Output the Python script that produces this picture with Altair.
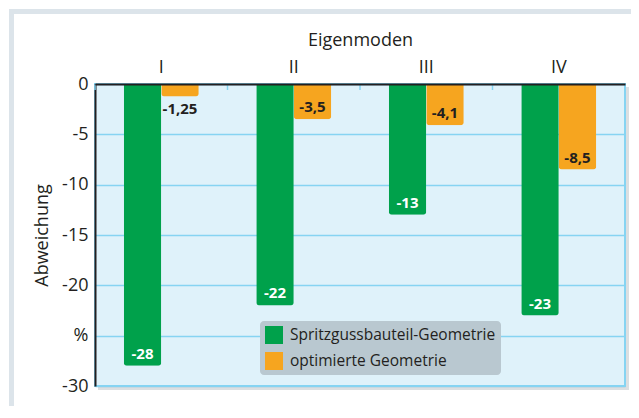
import altair as alt
import pandas as pd

modes = ["I", "II", "III", "IV"]
series_names = ["Spritzgussbauteil-Geometrie", "optimierte Geometrie"]
spritz = [-28, -22, -13, -23]
optim = [-1.25, -3.5, -4.1, -8.5]
y_ticks = [0, -5, -10, -15, -20, -25, -30]

GREEN = "#00a14b"
ORANGE = "#f6a51f"
DARK = "#231f20"
GRID = "#86d4f2"
FONT = "Open Sans"


def fmt(v):
    s = ("%g" % v)
    return s.replace(".", ",")


rows = []
for m, a, b in zip(modes, spritz, optim):
    rows.append({"mode": m, "series": series_names[0], "value": a, "label": fmt(a)})
    rows.append({"mode": m, "series": series_names[1], "value": b, "label": fmt(b)})
df = pd.DataFrame(rows)
modes_df = pd.DataFrame({"mode": modes})

x_scale = alt.Scale(domain=modes, paddingInner=0.434, paddingOuter=0.217)
xo = alt.XOffset("series:N", sort=series_names,
                 scale=alt.Scale(domain=series_names, paddingInner=0, paddingOuter=0))
y_enc = alt.Y(
    "value:Q",
    scale=alt.Scale(domain=[-30, 0], nice=False, zero=True),
    axis=alt.Axis(
        values=y_ticks,
        labelExpr="datum.value == -25 ? '%' : '' + datum.value",
        grid=True, gridColor=GRID, gridWidth=1.5,
        domain=True, domainColor=DARK, domainWidth=2,
        ticks=False, labelPadding=7,
        labelFont=FONT, labelFontSize=18, labelColor=DARK,
        title="Abweichung", titleFont=FONT, titleFontSize=18,
        titleFontWeight="normal", titleColor=DARK, titlePadding=10,
    ),
)

base = alt.Chart(df)

bars = base.mark_bar(cornerRadiusBottomLeft=3, cornerRadiusBottomRight=3).encode(
    x=alt.X("mode:N", sort=modes, scale=x_scale,
            axis=alt.Axis(orient="top", title="Eigenmoden", labelAngle=0,
                          labelFont=FONT, labelFontSize=18, labelColor=DARK,
                          labelPadding=8, ticks=False,
                          domain=True, domainColor=DARK, domainWidth=2,
                          titleFont=FONT, titleFontSize=18, titleFontWeight="normal",
                          titleColor=DARK, titlePadding=9, zindex=1)),
    xOffset=xo,
    y=y_enc,
    color=alt.Color("series:N", sort=series_names,
                    scale=alt.Scale(domain=series_names, range=[GREEN, ORANGE]),
                    legend=alt.Legend(title=None, orient="none", legendX=165, legendY=237,
                                      fillColor="#b9c8d0", cornerRadius=4, padding=5,
                                      symbolType="square", symbolSize=324,
                                      symbolStrokeWidth=0, symbolOpacity=1,
                                      labelFont=FONT, labelFontSize=15.5, labelColor=DARK,
                                      labelLimit=0, labelOffset=7, rowPadding=8)),
)

text_color = alt.condition(alt.datum.series == series_names[0],
                           alt.value("white"), alt.value(DARK))

labels_in = base.transform_filter("datum.value < -2").mark_text(
    font=FONT, fontSize=15, fontWeight="bold", baseline="middle", dy=-12
).encode(
    x=alt.X("mode:N", sort=modes, scale=x_scale),
    xOffset=xo,
    y=alt.Y("value:Q"),
    text="label:N",
    color=text_color,
)

labels_out = base.transform_filter("datum.value >= -2").mark_text(
    font=FONT, fontSize=15, fontWeight="bold", baseline="middle", dy=12
).encode(
    x=alt.X("mode:N", sort=modes, scale=x_scale),
    xOffset=xo,
    y=alt.Y("value:Q"),
    text="label:N",
    color=text_color,
)

frame = alt.Chart(pd.DataFrame({"a": [0]})).mark_rect(
    filled=False, stroke="#dce4ea", strokeWidth=5, clip=False
).encode(
    x=alt.value(-83.5), x2=alt.value(700), y=alt.value(-72.5), y2=alt.value(500)
)

shadow_b = alt.Chart(pd.DataFrame({"a": [0]})).mark_rect(
    fill="#9aa4aa", opacity=0.35, clip=False
).encode(x=alt.value(3), x2=alt.value(534), y=alt.value(303), y2=alt.value(306))
shadow_r = alt.Chart(pd.DataFrame({"a": [0]})).mark_rect(
    fill="#9aa4aa", opacity=0.35, clip=False
).encode(x=alt.value(531), x2=alt.value(534), y=alt.value(3), y2=alt.value(303))

main = alt.layer(frame, shadow_b, shadow_r, bars, labels_in, labels_out)

band_ticks = alt.Chart(modes_df).mark_rule(color=GRID, strokeWidth=1.5).encode(
    x=alt.X("mode:N", sort=modes, bandPosition=0,
            scale=alt.Scale(domain=modes, paddingInner=0, paddingOuter=0), axis=None),
    y=alt.value(1), y2=alt.value(6),
)

chart = alt.layer(main, band_ticks).resolve_scale(x="independent").properties(
    width=530, height=302,
    autosize=alt.AutoSizeParams(type="none"),
    padding={"left": 87, "top": 76, "right": 6, "bottom": 20},
    background="white",
).configure_view(
    fill="#dff2fa", stroke=GRID, strokeWidth=2
)

chart.save("out.html", embed_options={"renderer": "svg", "actions": False})
